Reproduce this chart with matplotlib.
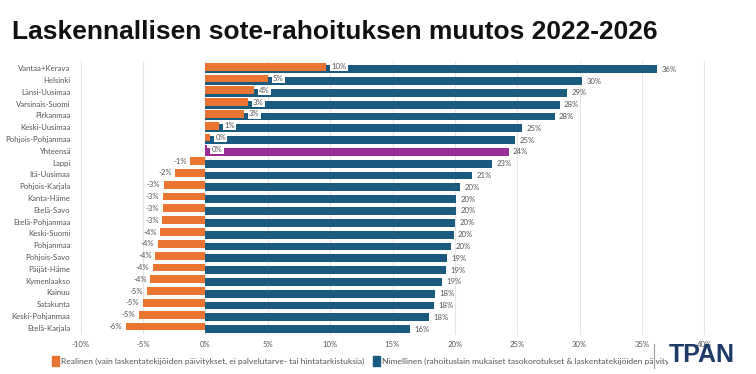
import matplotlib.pyplot as plt
import numpy as np
from matplotlib.patches import Patch, Rectangle

plt.rcParams["font.family"] = ["Lato", "DejaVu Sans"]

REGIONS = [
    "Vantaa+Kerava", "Helsinki", "Länsi-Uusimaa", "Varsinais-Suomi", "Pirkanmaa",
    "Keski-Uusimaa", "Pohjois-Pohjanmaa", "Yhteensä", "Lappi", "Itä-Uusimaa",
    "Pohjois-Karjala", "Kanta-Häme", "Etelä-Savo", "Etelä-Pohjanmaa", "Keski-Suomi",
    "Pohjanmaa", "Pohjois-Savo", "Päijät-Häme", "Kymenlaakso", "Kainuu",
    "Satakunta", "Keski-Pohjanmaa", "Etelä-Karjala",
]
REAL = [9.7, 5.0, 3.9, 3.4, 3.1, 1.1, 0.4, 0.1, -1.2, -2.4, -3.3, -3.4, -3.4,
        -3.45, -3.6, -3.8, -4.0, -4.2, -4.4, -4.7, -5.0, -5.3, -6.4]
NOMINAL = [36.2, 30.2, 29.0, 28.4, 28.0, 25.4, 24.8, 24.3, 23.0, 21.4, 20.4, 20.1,
           20.1, 20.0, 19.9, 19.7, 19.4, 19.3, 19.0, 18.4, 18.3, 17.9, 16.4]
XTICKS = [-10, -5, 0, 5, 10, 15, 20, 25, 30, 35, 40]
LEGEND_REAL = "Realinen (vain laskentatekijöiden päivitykset, ei palvelutarve- tai hintatarkistuksia)"
LEGEND_NOM = "Nimellinen (rahoituslain mukaiset tasokorotukset & laskentatekijöiden päivitykset)"

ORANGE = "#EA7432"
BLUE = "#1B5A7F"
PURPLE = "#9A2C98"
TEXT = "#555555"

fig = plt.figure(figsize=(7.56, 3.74), dpi=100)
ax = fig.add_axes([80 / 756, 1 - 335 / 374, 625 / 756, 274 / 374])

y = np.arange(len(REGIONS))
total = REGIONS.index("Yhteensä")
blue_cols = [PURPLE if i == total else BLUE for i in y]
orange_cols = [PURPLE if i == total else ORANGE for i in y]

ax.barh(y + 0.1, NOMINAL, height=0.66, color=blue_cols, zorder=2)
ax.barh(y - 0.12, REAL, height=0.66, color=orange_cols, zorder=3)

for i in y:
    ax.text(NOMINAL[i] + 0.35, i + 0.1, f"{NOMINAL[i]:.0f}%", va="center", ha="left",
            fontsize=5.6, color=TEXT, zorder=4)
    r = REAL[i]
    if r >= 0:
        ax.text(r + 0.4, i - 0.12, f"{r:.0f}%", va="center", ha="left", fontsize=5.6,
                color=TEXT, zorder=5,
                bbox=dict(boxstyle="square,pad=0.15", fc="white", ec="none"))
    else:
        ax.text(r - 0.3, i - 0.12, f"{r:.0f}%", va="center", ha="right", fontsize=5.6,
                color=TEXT, zorder=5)

ax.set_xlim(-10.05, 40.05)
ax.set_ylim(len(REGIONS) - 0.4, -0.6)
ax.set_xticks(XTICKS, [f"{t}%" for t in XTICKS])
ax.set_yticks(y, REGIONS)
ax.tick_params(axis="both", length=0, labelsize=5.6, labelcolor=TEXT)
ax.tick_params(axis="x", pad=4)
ax.tick_params(axis="y", pad=7)
ax.grid(axis="x", color="#e4e4e4", linewidth=0.8, zorder=0)
ax.set_axisbelow(True)
for s in ax.spines.values():
    s.set_visible(False)

fig.text(12 / 756, 1 - 32 / 374, "Laskennallisen sote-rahoituksen muutos 2022-2026",
         fontsize=19, fontweight="bold", color="#111111", va="center", ha="left",
         family=["Liberation Sans", "DejaVu Sans"])

handles = [Patch(color=ORANGE, label=LEGEND_REAL), Patch(color=BLUE, label=LEGEND_NOM)]
fig.legend(handles=handles, loc="center left", bbox_to_anchor=(44 / 756, 1 - 361 / 374),
           ncol=2, frameon=False, fontsize=6.1, handlelength=0.9, handleheight=1.4,
           handletextpad=0.2, columnspacing=1.0, labelcolor=TEXT)

# logo block covers the end of the legend, as in the original
fig.add_artist(Rectangle((668 / 756, 0), 88 / 756, 1 - 349 / 374,
                         transform=fig.transFigure, fc="white", ec="none", zorder=9))
fig.add_artist(plt.Line2D([654 / 756, 654 / 756], [1 - 368 / 374, 1 - 344 / 374],
                          color="#999999", linewidth=0.8, zorder=9))
fig.text(702 / 756, 1 - 355 / 374, "TPAN", fontsize=18, fontweight="bold", color="#1E3A66",
         ha="center", va="center", zorder=10,
         family=["Liberation Sans", "DejaVu Sans"])

fig.savefig("out.png", dpi=100)
